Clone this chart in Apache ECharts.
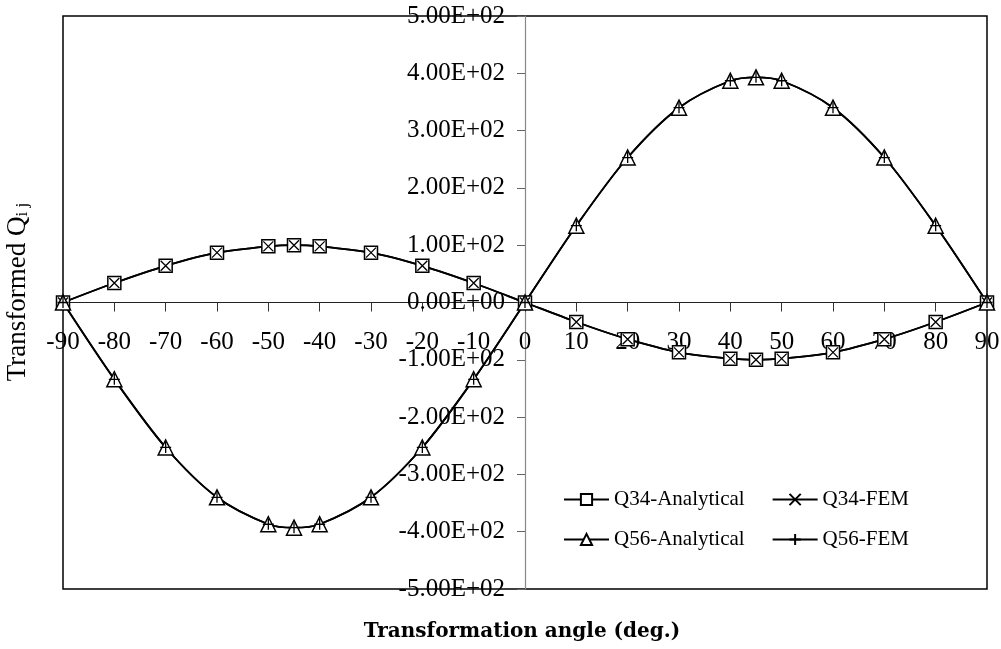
<!DOCTYPE html>
<html>
<head>
<meta charset="utf-8">
<script src="https://cdn.jsdelivr.net/npm/echarts@6/dist/echarts.min.js"></script>
<style>
  html, body { margin: 0; padding: 0; background: #fff; }
  #chart { width: 1001px; height: 649px; }
</style>
</head>
<body>
<div id="chart"></div>
<script>
// transformation angle (deg.)
const angles = [-90, -80, -70, -60, -50, -45, -40, -30, -20, -10, 0, 10, 20, 30, 40, 45, 50, 60, 70, 80, 90];
const q34Analytical = [0, 34, 64, 87, 98, 100, 98, 87, 64, 34, 0, -34, -64, -87, -98, -100, -98, -87, -64, -34, 0];
const q34Fem = [0, 34, 64, 87, 98, 100, 98, 87, 64, 34, 0, -34, -64, -87, -98, -100, -98, -87, -64, -34, 0];
const q56Analytical = [0, -134, -253, -340, -387, -393, -387, -340, -253, -134, 0, 134, 253, 340, 387, 393, 387, 340, 253, 134, 0];
const q56Fem = [0, -134, -253, -340, -387, -393, -387, -340, -253, -134, 0, 134, 253, 340, 387, 393, 387, 340, 253, 134, 0];

const W = 1001, H = 649;
const G = { left: 63, right: 14, top: 16, bottom: 60 };
const serif = '"Liberation Serif", "Times New Roman", serif';
const pairs = (ys) => angles.map((a, i) => [a, ys[i]]);

function sci(v) {
  if (v === 0) return '0.00E+00';
  const [m, e] = v.toExponential(2).split('e');
  const n = Math.abs(parseInt(e, 10));
  return m + 'E' + (e[0] === '-' ? '-' : '+') + (n < 10 ? '0' + n : n);
}

const CROSS = 'path://M0,0L10,10M10,0L0,10';
const PLUS = 'path://M5,0L5,10M0,5L10,5';

function line(name, ys, symbol, size, hollow) {
  return {
    name, type: 'line', data: pairs(ys), smooth: 0.3,
    symbol, symbolSize: size, showAllSymbol: true,
    lineStyle: { color: '#000', width: 1.8 },
    itemStyle: hollow
      ? { color: '#fff', borderColor: '#000', borderWidth: 1.5 }
      : { color: 'rgba(0,0,0,0)', borderColor: '#000', borderWidth: 1.3 },
    emphasis: { disabled: true },
    animation: false
  };
}

// axes cross at 0 in the middle of the plot
const xOffset = -(H - G.top - G.bottom) / 2;
const yOffset = -(W - G.left - G.right) / 2;

const legendBase = {
  left: 563, padding: 0, itemWidth: 45, itemHeight: 14, itemGap: 27, selectedMode: false,
  textStyle: { fontFamily: serif, fontSize: 21, color: '#000' }
};

const chart = echarts.init(document.getElementById('chart'));
chart.setOption({
  backgroundColor: '#fff',
  grid: { ...G, outerBoundsMode: 'none', containLabel: false, show: true, borderColor: '#000', borderWidth: 1.5 },
  xAxis: {
    type: 'value', min: -90, max: 90, interval: 10, position: 'bottom', offset: xOffset,
    axisLine: { onZero: false, lineStyle: { color: '#222', width: 1.2 } },
    axisTick: { inside: false, length: 9, lineStyle: { color: '#333' } },
    axisLabel: { margin: 27, fontFamily: serif, fontSize: 25, color: '#000' },
    splitLine: { show: false }
  },
  yAxis: {
    type: 'value', min: -500, max: 500, interval: 100, position: 'left', offset: yOffset,
    axisLine: { onZero: false, lineStyle: { color: '#888', width: 1.2 } },
    axisTick: { inside: false, length: 8, lineStyle: { color: '#666' } },
    axisLabel: { margin: 20, fontFamily: serif, fontSize: 25, color: '#000', formatter: sci },
    splitLine: { show: false }
  },
  legend: [
    { ...legendBase, data: ['Q34-Analytical', 'Q34-FEM'], top: 489 },
    { ...legendBase, data: ['Q56-Analytical', 'Q56-FEM'], top: 529 }
  ],
  graphic: [
    {
      type: 'text', x: 18, y: 292, rotation: Math.PI / 2,
      style: {
        text: 'Transformed Q{s|i j}', align: 'center', verticalAlign: 'middle',
        font: '27px ' + serif, fill: '#000',
        rich: { s: { fontFamily: serif, fontSize: 17, verticalAlign: 'bottom', padding: [8, 0, 0, 0] } }
      }
    },
    {
      type: 'text', x: 522, y: 632,
      style: {
        text: 'Transformation angle (deg.)', align: 'center', verticalAlign: 'middle',
        font: 'bold 20px "DejaVu Serif", serif', fill: '#000'
      }
    }
  ],
  series: [
    line('Q34-Analytical', q34Analytical, 'rect', 13, true),
    line('Q34-FEM', q34Fem, CROSS, 10, false),
    line('Q56-Analytical', q56Analytical, 'triangle', 15, true),
    line('Q56-FEM', q56Fem, PLUS, 11, false)
  ]
});
</script>
</body>
</html>
